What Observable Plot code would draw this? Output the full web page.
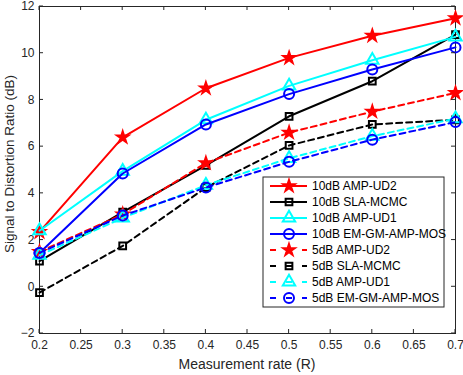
<!DOCTYPE html>
<html><head><meta charset="utf-8">
<script src="https://cdn.jsdelivr.net/npm/d3@7"></script>
<script src="https://cdn.jsdelivr.net/npm/@observablehq/plot@0.6"></script>
<style>
html,body{margin:0;padding:0;background:#fff;}
svg{font-family:"Liberation Sans",Arial,sans-serif;}
</style></head>
<body><div id="chart"></div>
<script>
const rates = [0.2, 0.3, 0.4, 0.5, 0.6, 0.7];
const xTicks = [0.2,0.25,0.3,0.35,0.4,0.45,0.5,0.55,0.6,0.65,0.7];
const yTicks = [-2,0,2,4,6,8,10,12];
const seriesNames = ["10dB AMP-UD2","10dB SLA-MCMC","10dB AMP-UD1","10dB EM-GM-AMP-MOS","5dB AMP-UD2","5dB SLA-MCMC","5dB AMP-UD1","5dB EM-GM-AMP-MOS"];
const amp2_10 = [2.35, 6.4, 8.5, 9.8, 10.75, 11.5];
const sla_10  = [1.1, 3.2, 5.2, 7.3, 8.8, 10.8];
const amp1_10 = [2.4, 4.95, 7.15, 8.6, 9.7, 10.7];
const em_10   = [1.45, 4.85, 6.95, 8.25, 9.3, 10.25];
const amp2_5  = [1.5, 3.1, 5.3, 6.6, 7.5, 8.3];
const sla_5   = [-0.25, 1.75, 4.25, 6.05, 6.95, 7.15];
const amp1_5  = [1.35, 2.95, 4.35, 5.5, 6.45, 7.2];
const em_5    = [1.45, 3.05, 4.25, 5.35, 6.3, 7.05];

const values = [amp2_10, sla_10, amp1_10, em_10, amp2_5, sla_5, amp1_5, em_5];
const styles = [
  {color:"#ff0000", dash:null, symbol:"star", r:3.6, fill:"#ff0000"},
  {color:"#000000", dash:null, symbol:"square", r:3.8, fill:"none"},
  {color:"#00ffff", dash:null, symbol:"triangle", r:4.6, fill:"none"},
  {color:"#0000ff", dash:null, symbol:"circle", r:5, fill:"none"},
  {color:"#ff0000", dash:"6,4", symbol:"star", r:3.6, fill:"#ff0000"},
  {color:"#000000", dash:"6,4", symbol:"square", r:3.8, fill:"none"},
  {color:"#00ffff", dash:"6,4", symbol:"triangle", r:4.6, fill:"none"},
  {color:"#0000ff", dash:"6,4", symbol:"circle", r:5, fill:"none"}
];

const marks = [];
seriesNames.forEach((name, i) => {
  const data = rates.map((x, j) => ({x, y: values[i][j], s: name}));
  const st = styles[i];
  marks.push(Plot.line(data, {x:"x", y:"y", stroke: st.color, strokeWidth: 2, strokeDasharray: st.dash || undefined}));
  marks.push(Plot.dot(data, {x:"x", y:"y", symbol: st.symbol, r: st.r, stroke: st.color, strokeWidth: 2, fill: st.fill}));
});

const axisColor = "#262626";
const W = 463, H = 375, mL = 39, mR = 8, mT = 6, mB = 42;
const plot = Plot.plot({
  width: W, height: H,
  marginLeft: mL, marginRight: mR, marginTop: mT, marginBottom: mB,
  style: {fontSize: "12px", fontFamily: "Liberation Sans, Arial, sans-serif", color: axisColor, background: "#fff"},
  x: {domain: [0.2, 0.7]},
  y: {domain: [-2, 12]},
  marks: [
    Plot.frame({stroke: axisColor, strokeWidth: 1}),
    Plot.axisX({ticks: xTicks, tickSize: 0, tickPadding: 7, tickFormat: d => d3.format("~g")(d), label: null}),
    Plot.axisY({ticks: yTicks, tickSize: 0, tickPadding: 5, tickFormat: d => d3.format("~g")(d), label: null}),
    ...marks
  ]
});
document.getElementById("chart").appendChild(plot);

const svg = d3.select(plot);
const xs = plot.scale("x"), ys = plot.scale("y");
const tg = svg.append("g").attr("stroke", axisColor).attr("stroke-width", 1);
xTicks.forEach(t => {
  const x = xs.apply(t);
  tg.append("line").attr("x1", x).attr("x2", x).attr("y1", H - mB).attr("y2", H - mB - 4);
  tg.append("line").attr("x1", x).attr("x2", x).attr("y1", mT).attr("y2", mT + 4);
});
yTicks.forEach(t => {
  const y = ys.apply(t);
  tg.append("line").attr("x1", mL).attr("x2", mL + 4).attr("y1", y).attr("y2", y);
  tg.append("line").attr("x1", W - mR).attr("x2", W - mR - 4).attr("y1", y).attr("y2", y);
});
svg.append("text").attr("x", (mL + W - mR) / 2).attr("y", 369).attr("text-anchor", "middle")
  .attr("fill", axisColor).style("font-size", "14px").text("Measurement rate (R)");
svg.append("text").attr("transform", `translate(14,164) rotate(-90)`).attr("text-anchor", "middle")
  .attr("fill", axisColor).style("font-size", "13.5px").text("Signal to Distortion Ratio (dB)");

const lg = svg.append("g");
lg.append("rect").attr("x", 263).attr("y", 177).attr("width", 181).attr("height", 130)
  .attr("fill", "#fff").attr("stroke", axisColor).attr("stroke-width", 1);
const symMap = {star: d3.symbolStar, square: d3.symbolSquare, triangle: d3.symbolTriangle, circle: d3.symbolCircle};
seriesNames.forEach((name, i) => {
  const st = styles[i];
  const y = 186 + i * 16;
  const ln = lg.append("line").attr("x1", 270).attr("x2", 307).attr("y1", y).attr("y2", y)
    .attr("stroke", st.color).attr("stroke-width", 2);
  if (st.dash) ln.attr("stroke-dasharray", "6,10");
  lg.append("path").attr("d", d3.symbol(symMap[st.symbol], Math.PI * st.r * st.r)())
    .attr("transform", `translate(289,${y})`).attr("fill", st.fill).attr("stroke", st.color).attr("stroke-width", 2);
  lg.append("text").attr("x", 312).attr("y", y).attr("dy", "0.35em").attr("fill", "#000")
    .attr("text-anchor", "start").style("font-size", "12px").text(name);
});
</script></body></html>
